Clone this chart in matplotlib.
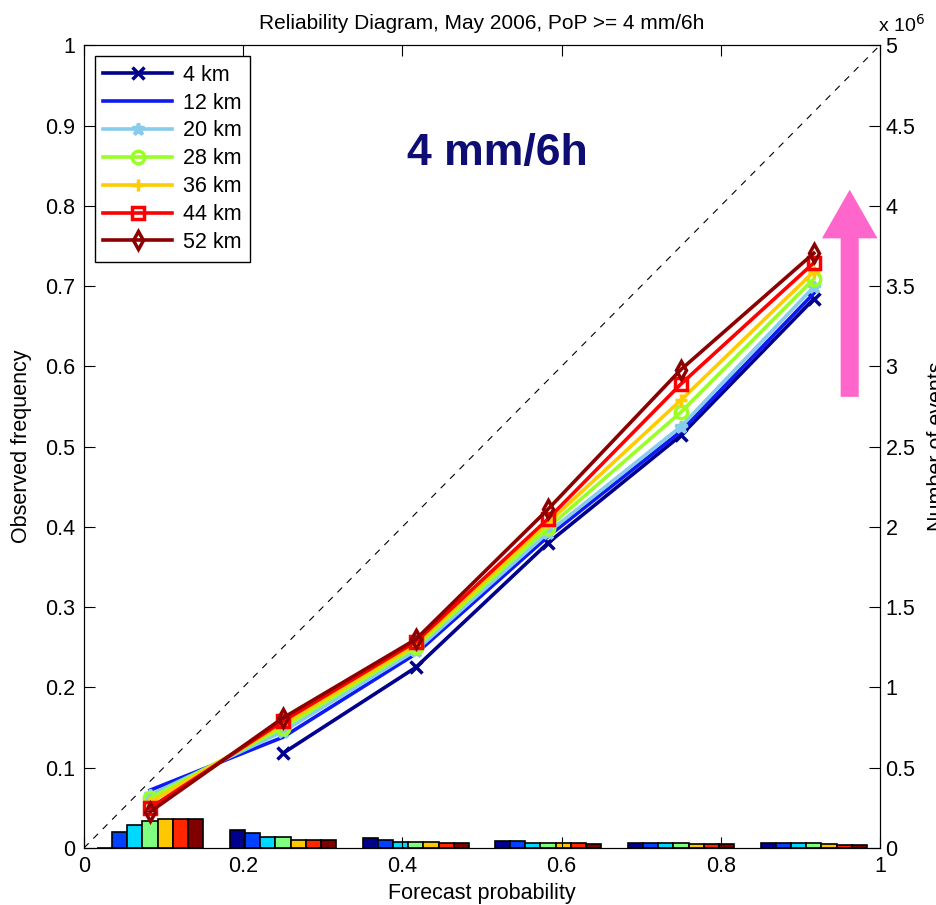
import numpy as np
import matplotlib
matplotlib.use('Agg')
from matplotlib import pyplot as plt

plt.rcParams['font.family'] = ['Liberation Sans', 'DejaVu Sans']

# Bin centres (forecast probability) and series
prob = [0.083, 0.25, 0.417, 0.583, 0.75, 0.917]
labels = ['4 km', '12 km', '20 km', '28 km', '36 km', '44 km', '52 km']

obs_4 = [np.nan, 0.118, 0.225, 0.380, 0.514, 0.684]
obs_12 = [0.072, 0.138, 0.242, 0.388, 0.519, 0.691]
obs_20 = [0.066, 0.145, 0.246, 0.393, 0.525, 0.699]
obs_28 = [0.062, 0.150, 0.250, 0.399, 0.543, 0.709]
obs_36 = [0.057, 0.154, 0.253, 0.405, 0.558, 0.718]
obs_44 = [0.050, 0.158, 0.257, 0.410, 0.578, 0.729]
obs_52 = [0.045, 0.162, 0.260, 0.422, 0.596, 0.741]

# Number of events (x 10^6), per bin for each resolution
cnt_4 = [0.0, 0.112, 0.063, 0.042, 0.033, 0.033]
cnt_12 = [0.100, 0.095, 0.050, 0.042, 0.033, 0.033]
cnt_20 = [0.143, 0.070, 0.040, 0.030, 0.033, 0.033]
cnt_28 = [0.170, 0.070, 0.040, 0.030, 0.033, 0.033]
cnt_36 = [0.180, 0.052, 0.040, 0.030, 0.022, 0.022]
cnt_44 = [0.180, 0.052, 0.030, 0.030, 0.022, 0.020]
cnt_52 = [0.180, 0.048, 0.030, 0.022, 0.022, 0.020]

obs_all = [obs_4, obs_12, obs_20, obs_28, obs_36, obs_44, obs_52]
cnt_all = [cnt_4, cnt_12, cnt_20, cnt_28, cnt_36, cnt_44, cnt_52]

line_colors = [(0, 0, 0.55), (0.05, 0.1, 0.95), (0.53, 0.8, 0.93), (0.6, 1, 0.15),
               (1, 0.8, 0), (1, 0, 0), (0.55, 0, 0)]
markers = ['x', None, '*', 'o', '+', 's', 'd']
bar_colors = [(0, 0, 0.55), (0, 0.25, 1), (0, 0.85, 1), (0.5, 1, 0.5),
              (1, 0.78, 0), (1, 0.15, 0), (0.5, 0, 0)]

fs = 15.5

fig = plt.figure(figsize=(9.37, 9.05), dpi=100)
ax = fig.add_axes([0.0896, 0.063, 0.8495, 0.887])
ax2 = ax.twinx()
ax.set_zorder(ax2.get_zorder() + 1)
ax.patch.set_visible(False)

# Histogram bars on the right axis
bw = 0.019
for i, cnt in enumerate(cnt_all):
    xs = np.array(prob) + (i - 3) * bw
    ax2.bar(xs, cnt, width=bw, color=bar_colors[i], edgecolor='black', linewidth=1.2)
ax2.set_ylim(0, 5)
ax2.set_yticks(np.arange(0, 5.01, 0.5))
ax2.set_yticklabels(['0', '0.5', '1', '1.5', '2', '2.5', '3', '3.5', '4', '4.5', '5'])
ax2.tick_params(direction='in', length=8, labelsize=fs, pad=4)
ax2.set_ylabel('Number of events', fontsize=fs, labelpad=8)
ax2.text(0.998, 1.012, 'x 10$^6$', transform=ax2.transAxes, fontsize=14, ha='left', va='bottom')

# Reliability lines
ax.plot([0, 1], [0, 1], '--', color='black', lw=0.8, dashes=(6, 6))
for i, obs in enumerate(obs_all):
    ax.plot(prob, obs, color=line_colors[i], marker=markers[i], lw=2.6,
            markersize=9, markeredgewidth=2.5, markerfacecolor='none',
            label=labels[i])

ax.set_xlim(0, 1)
ax.set_ylim(0, 1)
ax.set_xticks([0, 0.2, 0.4, 0.6, 0.8, 1])
ax.set_xticklabels(['0', '0.2', '0.4', '0.6', '0.8', '1'])
ax.set_yticks(np.arange(0, 1.01, 0.1))
ax.set_yticklabels(['0', '0.1', '0.2', '0.3', '0.4', '0.5', '0.6', '0.7', '0.8', '0.9', '1'])
ax.tick_params(direction='in', length=8, labelsize=fs, top=True, pad=6)
ax.set_xlabel('Forecast probability', fontsize=fs, labelpad=4)
ax.set_ylabel('Observed frequency', fontsize=fs, labelpad=10)
ax.set_title('Reliability Diagram, May 2006, PoP >= 4 mm/6h', fontsize=15, pad=12)

leg = ax.legend(loc='upper left', fontsize=fs, handlelength=3.2, fancybox=False,
                edgecolor='black', framealpha=1, borderaxespad=0.5, labelspacing=0.32,
                borderpad=0.4, handletextpad=0.5)
leg.get_frame().set_linewidth(1.0)

ax.text(0.52, 0.865, '4 mm/6h', transform=ax.transAxes, fontsize=32, fontweight='bold',
        color=(0.05, 0.05, 0.45), ha='center', va='center')

# Pink arrow
ax.annotate('', xy=(0.962, 0.82), xytext=(0.962, 0.562),
            arrowprops=dict(facecolor=(1, 0.4, 0.8), edgecolor='none',
                            width=13, headwidth=40, headlength=35))

fig.savefig('out.png', dpi=100)
